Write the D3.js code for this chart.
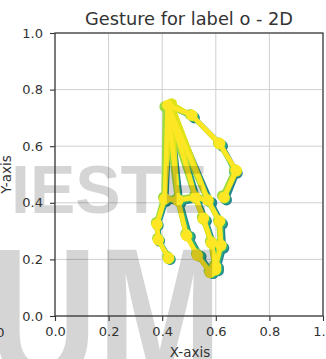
<!DOCTYPE html>
<html>
<head>
<meta charset="utf-8">
<script src="https://cdn.jsdelivr.net/npm/d3@7/dist/d3.min.js"></script>
<style>
  html, body { margin: 0; padding: 0; background: #fff; }
  svg { display: block; font-family: "DejaVu Sans", sans-serif; }
</style>
</head>
<body>
<svg id="chart" width="326" height="359"></svg>
<script>
// Hand landmark frames (21 points each: wrist, thumb 1-4, index 5-8, middle 9-12, ring 13-16, pinky 17-20)
const frameShades = [0.45, 0.65, 0.85, 0.95, 1.0];

const frame0X = [0.430, 0.520, 0.625, 0.680, 0.640, 0.585, 0.625, 0.630, 0.610, 0.535, 0.565, 0.595, 0.610, 0.470, 0.505, 0.545, 0.590, 0.415, 0.385, 0.390, 0.430];
const frame0Y = [0.740, 0.700, 0.600, 0.505, 0.410, 0.400, 0.325, 0.240, 0.170, 0.410, 0.335, 0.250, 0.160, 0.400, 0.280, 0.210, 0.150, 0.405, 0.320, 0.265, 0.200];

const frame1X = [0.425, 0.515, 0.620, 0.670, 0.635, 0.575, 0.620, 0.625, 0.605, 0.530, 0.560, 0.590, 0.605, 0.465, 0.500, 0.540, 0.585, 0.412, 0.383, 0.388, 0.428];
const frame1Y = [0.742, 0.705, 0.605, 0.510, 0.415, 0.405, 0.330, 0.245, 0.172, 0.415, 0.340, 0.255, 0.162, 0.405, 0.282, 0.212, 0.152, 0.410, 0.322, 0.268, 0.202];

const frame2X = [0.410, 0.505, 0.610, 0.670, 0.625, 0.565, 0.610, 0.615, 0.595, 0.520, 0.550, 0.580, 0.595, 0.455, 0.488, 0.528, 0.575, 0.405, 0.378, 0.383, 0.420];
const frame2Y = [0.740, 0.712, 0.612, 0.518, 0.425, 0.415, 0.338, 0.255, 0.180, 0.425, 0.350, 0.265, 0.170, 0.415, 0.290, 0.220, 0.160, 0.420, 0.330, 0.275, 0.210];

const frame3X = [0.435, 0.512, 0.612, 0.678, 0.632, 0.572, 0.612, 0.618, 0.598, 0.522, 0.552, 0.582, 0.598, 0.458, 0.492, 0.532, 0.578, 0.408, 0.381, 0.386, 0.423];
const frame3Y = [0.750, 0.708, 0.608, 0.512, 0.418, 0.408, 0.332, 0.248, 0.172, 0.418, 0.342, 0.258, 0.162, 0.408, 0.283, 0.213, 0.153, 0.412, 0.323, 0.268, 0.203];

const frame4X = [0.420, 0.510, 0.615, 0.675, 0.630, 0.570, 0.615, 0.620, 0.600, 0.525, 0.555, 0.585, 0.600, 0.460, 0.490, 0.530, 0.580, 0.410, 0.380, 0.385, 0.425];
const frame4Y = [0.745, 0.710, 0.610, 0.515, 0.420, 0.410, 0.335, 0.250, 0.175, 0.420, 0.345, 0.260, 0.165, 0.410, 0.285, 0.215, 0.155, 0.415, 0.325, 0.270, 0.205];

const connections = [
  [0,1],[1,2],[2,3],[3,4],
  [0,5],[5,6],[6,7],[7,8],
  [0,9],[9,10],[10,11],[11,12],
  [0,13],[13,14],[14,15],[15,16],
  [0,17],[17,18],[18,19],[19,20],
  [5,9],[9,13],[13,17]
];

const xTicks = [0, 0.2, 0.4, 0.6, 0.8, 1.0];
const yTicks = [0, 0.2, 0.4, 0.6, 0.8, 1.0];

const titleText = "Gesture for label o - 2D";
const xLabel = "X-axis";
const yLabel = "Y-axis";

const frames = [
  {xs: frame0X, ys: frame0Y},
  {xs: frame1X, ys: frame1Y},
  {xs: frame2X, ys: frame2Y},
  {xs: frame3X, ys: frame3Y},
  {xs: frame4X, ys: frame4Y}
];

const svg = d3.select("#chart");
const axLeft = 55, axRight = 323, axTop = 33, axBottom = 316;
const x = d3.scaleLinear().domain([0, 1]).range([axLeft, axRight]);
const y = d3.scaleLinear().domain([0, 1]).range([axBottom, axTop]);
const textColor = "#333";

// grid
const grid = svg.append("g");
grid.selectAll("line.gx").data(xTicks).join("line")
  .attr("x1", d => x(d)).attr("x2", d => x(d))
  .attr("y1", axTop).attr("y2", axBottom)
  .attr("stroke", "#cfcfcf").attr("stroke-width", 1);
grid.selectAll("line.gy").data(yTicks).join("line")
  .attr("x1", axLeft).attr("x2", axRight)
  .attr("y1", d => y(d)).attr("y2", d => y(d))
  .attr("stroke", "#cfcfcf").attr("stroke-width", 1);

// hand skeleton frames, oldest first
const plot = svg.append("g");
frames.forEach((f, i) => {
  const c = d3.interpolateViridis(frameShades[i]);
  const g = plot.append("g");
  g.selectAll("line").data(connections).join("line")
    .attr("x1", d => x(f.xs[d[0]])).attr("y1", d => y(f.ys[d[0]]))
    .attr("x2", d => x(f.xs[d[1]])).attr("y2", d => y(f.ys[d[1]]))
    .attr("stroke", c).attr("stroke-width", 4.5).attr("stroke-linecap", "round");
  g.selectAll("circle").data(d3.range(f.xs.length)).join("circle")
    .attr("cx", k => x(f.xs[k])).attr("cy", k => y(f.ys[k]))
    .attr("r", 5.5).attr("fill", c);
});

// watermark lettering
const wm = svg.append("g").attr("fill", "#000").attr("opacity", 0.16)
  .attr("font-family", "'Liberation Sans', Arial, sans-serif").attr("font-weight", "bold");
wm.append("text").attr("x", 11).attr("y", 213).attr("font-size", 68).text("IESTE");
wm.append("text").attr("transform", "translate(-11,384) scale(1,1.3)")
  .attr("font-size", 150).text("UM");

// axes
const xAxis = svg.append("g").attr("transform", `translate(0,${axBottom})`)
  .call(d3.axisBottom(x).tickValues(xTicks).tickFormat(d3.format(".1f")).tickSize(5).tickPadding(6));
const yAxis = svg.append("g").attr("transform", `translate(${axLeft},0)`)
  .call(d3.axisLeft(y).tickValues(yTicks).tickFormat(d3.format(".1f")).tickSize(5).tickPadding(7));
[xAxis, yAxis].forEach(a => {
  a.select(".domain").remove();
  a.selectAll(".tick line").attr("stroke", textColor).attr("stroke-width", 1.1);
  a.selectAll(".tick text").attr("fill", textColor)
    .attr("font-family", "'DejaVu Sans', sans-serif").attr("font-size", 13);
});

// frame border
svg.append("rect").attr("x", axLeft).attr("y", axTop)
  .attr("width", axRight - axLeft).attr("height", axBottom - axTop)
  .attr("fill", "none").attr("stroke", textColor).attr("stroke-width", 1.2);

// neighbouring panel's last x tick, cut by the edge
svg.append("text").attr("x", 4.5).attr("y", 336.7).attr("text-anchor", "end")
  .attr("font-size", 13).attr("fill", textColor).text("1.0");

// title and axis labels
svg.append("text").attr("x", (axLeft + axRight) / 2).attr("y", 24.5)
  .attr("text-anchor", "middle").attr("font-size", 17.8).attr("fill", textColor).text(titleText);
svg.append("text").attr("x", 190).attr("y", 356.5)
  .attr("text-anchor", "middle").attr("font-size", 13.5).attr("fill", textColor).text(xLabel);
svg.append("text").attr("transform", "translate(10.5,174.5) rotate(-90)")
  .attr("text-anchor", "middle").attr("font-size", 13.5).attr("fill", textColor).text(yLabel);
</script>
</body>
</html>
